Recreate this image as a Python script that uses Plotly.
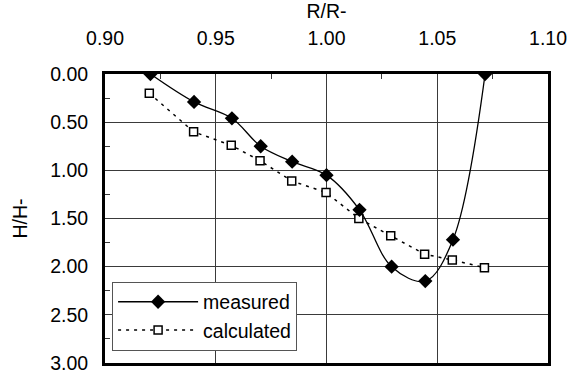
import plotly.graph_objects as go

# Radial position (R/R-) against depth (H/H-)
measured_r = [0.9205, 0.9402, 0.9573, 0.9703, 0.9845, 1.0000, 1.0149, 1.0294, 1.0446, 1.0571, 1.0716]
measured_h = [0.00, 0.29, 0.46, 0.75, 0.91, 1.05, 1.41, 2.00, 2.15, 1.72, 0.00]

calculated_r = [0.9200, 0.9400, 0.9570, 0.9700, 0.9843, 0.9998, 1.0146, 1.0290, 1.0443, 1.0568, 1.0713]
calculated_h = [0.20, 0.60, 0.74, 0.90, 1.11, 1.23, 1.50, 1.68, 1.87, 1.93, 2.01]

x_ticks = [0.90, 0.95, 1.00, 1.05, 1.10]
y_ticks = [0.00, 0.50, 1.00, 1.50, 2.00, 2.50, 3.00]

FONT = "Liberation Sans, Arial, sans-serif"
FS = 19.5
W, H = 579, 383

fig = go.Figure()

fig.add_trace(go.Scatter(
    x=calculated_r, y=calculated_h, name="calculated",
    mode="lines+markers",
    line=dict(color="black", width=1.5, dash="3px,5px"),
    marker=dict(symbol="square", size=8, color="white",
                line=dict(color="black", width=1.5)),
))
fig.add_trace(go.Scatter(
    x=measured_r, y=measured_h, name="measured",
    mode="lines+markers",
    line=dict(color="black", width=1.3, shape="spline", smoothing=1.0),
    marker=dict(symbol="diamond", size=11, color="black",
                line=dict(color="black", width=0)),
))

axis_common = dict(
    showline=True, linewidth=3, linecolor="black", mirror=True,
    showgrid=True, gridcolor="#3a3a3a", gridwidth=1,
    zeroline=False, tickformat=".2f",
    ticks="inside", ticklen=5, tickcolor="#3a3a3a",
    tickfont=dict(family=FONT, size=FS, color="black"),
)

fig.update_xaxes(
    **axis_common,
    side="top", range=[0.90, 1.10],
    tickvals=x_ticks,
    minor=dict(dtick=0.025, ticks="inside", ticklen=5, tickcolor="#3a3a3a", showgrid=False),
    title=dict(text="R/R-", font=dict(family=FONT, size=FS, color="black"), standoff=5),
    ticklabelstandoff=18,
)
fig.update_yaxes(
    **axis_common,
    range=[3.0, 0.0],
    tickvals=y_ticks,
    minor=dict(dtick=0.25, ticks="inside", ticklen=5, tickcolor="#3a3a3a", showgrid=False),
    title=dict(text="H/H-", font=dict(family=FONT, size=FS, color="black"), standoff=18),
    ticklabelstandoff=10,
)

fig.update_layout(
    width=W, height=H,
    margin=dict(l=105, r=31, t=73, b=9),
    paper_bgcolor="white", plot_bgcolor="white",
    showlegend=True,
    legend=dict(
        x=0.016, y=0.043, xanchor="left", yanchor="bottom",
        bgcolor="white", bordercolor="#555555", borderwidth=1,
        font=dict(family=FONT, size=FS, color="black"),
        traceorder="reversed", itemwidth=80,
        tracegroupgap=0,
    ),
    font=dict(family=FONT, color="black"),
)

fig.write_html("out.html")
